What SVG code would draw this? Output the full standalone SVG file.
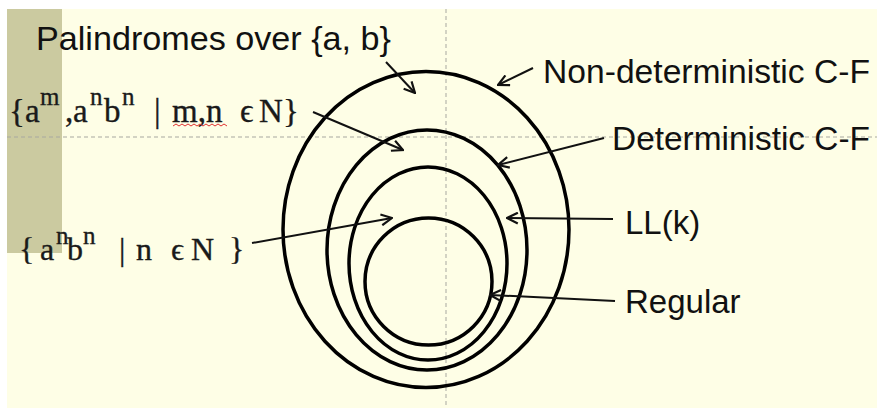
<svg xmlns="http://www.w3.org/2000/svg" width="877" height="408" viewBox="0 0 877 408">
  <style>
    .sans { font-family: "Liberation Sans", Arial, sans-serif; font-size: 33px; fill: #111; }
    .math { font-family: "Liberation Serif", "DejaVu Serif", serif; fill: #1a1a1a; stroke: #1a1a1a; stroke-width: 0.35; }
    .sup { font-size: 25px; }
    .ring { fill: none; stroke: #000; stroke-width: 3.5; }
    .arrow { fill: none; stroke: #111; stroke-width: 2; marker-end: url(#head); }
    .guide { stroke: #a8a8a0; stroke-width: 1; stroke-dasharray: 4 3; }
  </style>
  <defs>
    <marker id="head" viewBox="0 0 12 12" refX="11" refY="6" markerWidth="13" markerHeight="13" markerUnits="userSpaceOnUse" orient="auto">
      <path d="M1,1 L11,6 L1,11" fill="none" stroke="#111" stroke-width="2"/>
    </marker>
  </defs>

  <rect x="0" y="0" width="877" height="408" fill="#ffffff"/>
  <rect x="7" y="9" width="870" height="399" fill="#fefee6"/>
  <rect x="7" y="9" width="55" height="244" fill="#cbcaa0"/>

  <g id="guides">
    <line class="guide" x1="446" y1="9" x2="446" y2="408"/>
    <line class="guide" x1="7" y1="137" x2="877" y2="137"/>
  </g>

  <g id="nondet-cf"><ellipse class="ring" cx="426" cy="229.5" rx="143" ry="158"/></g>
  <g id="det-cf"><ellipse class="ring" cx="427" cy="250" rx="100" ry="120"/></g>
  <g id="llk"><ellipse class="ring" cx="428" cy="263.5" rx="79" ry="96.5"/></g>
  <g id="regular"><ellipse class="ring" cx="428.5" cy="281.5" rx="63.5" ry="63.5"/></g>

  <g id="connectors">
    <line class="arrow" x1="386" y1="62" x2="415" y2="93"/>
    <line class="arrow" x1="313" y1="112" x2="403" y2="150"/>
    <line class="arrow" x1="252" y1="243" x2="392" y2="218"/>
    <line class="arrow" x1="533" y1="68" x2="498" y2="85"/>
    <line class="arrow" x1="604" y1="138" x2="498" y2="165"/>
    <line class="arrow" x1="613" y1="219" x2="507" y2="218"/>
    <line class="arrow" x1="615" y1="301" x2="490" y2="295"/>
  </g>

  <g id="label-palindromes">
    <text class="sans" x="36" y="50" textLength="355" lengthAdjust="spacingAndGlyphs">Palindromes over {a, b}</text>
  </g>
  <g id="label-ambn">
    <text class="math" font-size="33" y="122"><tspan x="9">{</tspan><tspan x="25">a</tspan><tspan class="sup" x="40" y="105">m</tspan><tspan x="65" y="122">,</tspan><tspan x="73">a</tspan><tspan class="sup" x="90" y="105">n</tspan><tspan x="104" y="122">b</tspan><tspan class="sup" x="122" y="105">n</tspan><tspan x="154" y="122">|</tspan><tspan x="172" y="122">m,n</tspan><tspan x="240" y="122">ϵ</tspan><tspan x="259" y="122">N</tspan><tspan x="283" y="122">}</tspan></text>
    <path d="M173,126 l3,-2 l3,2 l3,-2 l3,2 l3,-2 l3,2 l3,-2 l3,2 l3,-2 l3,2 l3,-2 l3,2 l3,-2 l3,2 l3,-2 l3,2 l3,-2 l3,2" fill="none" stroke="#e03030" stroke-width="1"/>
  </g>
  <g id="label-anbn">
    <text class="math" font-size="32" y="260"><tspan x="19">{</tspan><tspan x="40">a</tspan><tspan class="sup" x="56" y="244">n</tspan><tspan x="67" y="260">b</tspan><tspan class="sup" x="83" y="244">n</tspan><tspan x="119" y="260">|</tspan><tspan x="136" y="260">n</tspan><tspan x="171" y="260">ϵ</tspan><tspan x="191" y="260">N</tspan><tspan x="229" y="260">}</tspan></text>
  </g>
  <g id="label-nondet">
    <text class="sans" x="543" y="83" textLength="327" lengthAdjust="spacingAndGlyphs">Non-deterministic C-F</text>
  </g>
  <g id="label-det">
    <text class="sans" x="612" y="150" textLength="258" lengthAdjust="spacingAndGlyphs">Deterministic C-F</text>
  </g>
  <g id="label-llk">
    <text class="sans" x="625" y="234">LL(k)</text>
  </g>
  <g id="label-regular">
    <text class="sans" x="625" y="313">Regular</text>
  </g>
</svg>
